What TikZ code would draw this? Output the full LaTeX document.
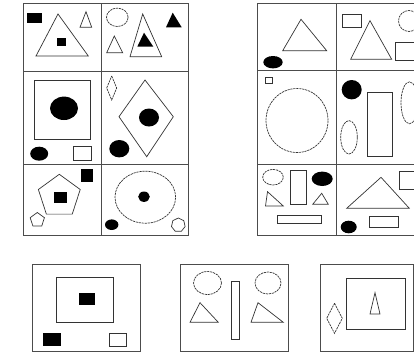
\documentclass[tikz,border=0pt]{standalone}
\usetikzlibrary{shapes.geometric}

\begin{document}
\begin{tikzpicture}[
  x=1pt, y=-1pt,
  frame/.style={draw=black!70, line width=1pt},
  shp/.style={draw=black!80, line width=0.7pt},
  dsh/.style={draw=black!80, line width=0.7pt, dash pattern=on 2.2pt off 0.8pt},
  blk/.style={fill=black},
  poly/.style={regular polygon, draw=black!80, line width=0.7pt, inner sep=0pt},
]
\useasboundingbox (0,0) rectangle (414,353);
\clip (0,0) rectangle (414,353);

% ---------- left grid ----------
\draw[frame] (23,4) rectangle (188,235);
\draw[frame] (101,4) -- (101,235);
\foreach \yy in {71,164} \draw[frame] (23,\yy) -- (188,\yy);

% top left
\fill[blk] (27.3,13.3) rectangle (41.7,22.7);
\draw[shp] (58,14) -- (88.3,56) -- (36,56) -- cycle;
\fill[blk] (56.7,37.7) rectangle (66,45.7);
\draw[shp] (86,11.7) -- (91.7,27.3) -- (80,27.3) -- cycle;

% top right
\draw[dsh] (117.3,17.3) ellipse [x radius=10.8pt, y radius=9.2pt];
\draw[shp] (114.3,36) -- (122.7,52.7) -- (106.7,52.7) -- cycle;
\draw[shp] (142.7,14) -- (161.7,56.7) -- (130,56.7) -- cycle;
\fill[blk] (144,32.7) -- (153.3,46.7) -- (137.3,46.7) -- cycle;
\fill[blk] (172.7,12.7) -- (181.7,27.3) -- (166,27.3) -- cycle;

% middle left
\draw[shp] (34,80.7) rectangle (90.7,139.3);
\fill[blk] (64,108.3) ellipse [x radius=14pt, y radius=11.7pt];
\fill[blk] (39.2,153.7) ellipse [x radius=9pt, y radius=7pt];
\draw[shp] (73.3,146.7) rectangle (91.7,160.7);

% middle right
\draw[dsh] (111.7,76) -- (116.7,88) -- (111.7,100) -- (106.7,88) -- cycle;
\draw[shp] (145,80) -- (173.3,116.7) -- (146.7,156.7) -- (119,116.7) -- cycle;
\fill[blk] (149,117.5) ellipse [x radius=10pt, y radius=9pt];
\fill[blk] (119.3,148.7) ellipse [x radius=10pt, y radius=8.7pt];

% bottom left
\node[poly, regular polygon sides=5, minimum size=44pt] (bigpent) at (59.3,196.3) {};
\fill[blk] (54.3,191.7) rectangle (66.7,203.3);
\fill[blk] (81,169.3) rectangle (93.3,181.7);
\node[poly, regular polygon sides=5, minimum size=15pt] (smallpent) at (37.3,220) {};

% bottom right
\draw[dsh] (145.3,197.2) ellipse [x radius=30.3pt, y radius=26pt];
\fill[blk] (144,196.7) ellipse [x radius=5.8pt, y radius=5.2pt];
\fill[blk] (111.7,224.7) ellipse [x radius=6.7pt, y radius=5.3pt];
\node[poly, regular polygon sides=7, minimum size=14pt] (smallhex) at (178.3,225) {};

% ---------- right grid ----------
\draw[frame] (257,4) rectangle (422,235);
\draw[frame] (336,4) -- (336,235);
\foreach \yy in {70,164} \draw[frame] (257,\yy) -- (422,\yy);

% top left
\draw[shp] (301,19.3) -- (326.7,50.7) -- (282.7,50.7) -- cycle;
\fill[blk] (273,62.2) ellipse [x radius=9.7pt, y radius=6.2pt];

% top right
\draw[shp] (342.7,14) rectangle (361,27.3);
\draw[shp] (370,20.7) -- (391.7,59.3) -- (350.7,59.3) -- cycle;
\draw[dsh] (409,21) ellipse [x radius=10.5pt, y radius=10.5pt];
\draw[shp] (395.7,42.7) rectangle (425,60.7);

% middle left
\draw[shp] (265,77.3) rectangle (272.7,83.3);
\draw[dsh] (297,120.5) ellipse [x radius=31pt, y radius=32pt];

% middle right
\fill[blk] (351.7,89.7) ellipse [x radius=10pt, y radius=9.7pt];
\draw[shp] (367.3,92.7) rectangle (392.7,156);
\draw[dsh] (349,137.3) ellipse [x radius=8.3pt, y radius=16.7pt];
\draw[dsh] (409.5,102.8) ellipse [x radius=8.5pt, y radius=21pt];

% bottom left
\draw[dsh] (273,177.2) ellipse [x radius=10.3pt, y radius=7.8pt];
\draw[shp] (290,170) rectangle (306,204.3);
\fill[blk] (322.2,178.8) ellipse [x radius=10.5pt, y radius=7.2pt];
\draw[shp] (267.5,191.7) -- (283.3,206) -- (265.5,206) -- cycle;
\draw[shp] (321.7,193.3) -- (328.3,204.3) -- (312.7,204.3) -- cycle;
\draw[shp] (277.3,215) rectangle (321.7,223.3);

% bottom right
\draw[shp] (381,177.3) -- (409.3,208.3) -- (346.7,208.3) -- cycle;
\draw[shp] (399.3,171.7) rectangle (425,189.3);
\fill[blk] (348.7,227) ellipse [x radius=8pt, y radius=6.3pt];
\draw[shp] (369.3,216.7) rectangle (398.3,227.7);

% ---------- answer boxes ----------
\draw[frame] (32.3,264.3) rectangle (140,351);
\draw[shp] (56.7,277) rectangle (113.3,322.3);
\fill[blk] (78.7,292.7) rectangle (95,305);
\fill[blk] (43.3,332.7) rectangle (61,346);
\draw[shp] (109.3,333.3) rectangle (126.7,346);

\draw[frame] (180,264.3) rectangle (288.3,351);
\draw[dsh] (207.5,283) ellipse [x radius=14pt, y radius=11.5pt];
\draw[dsh] (268,283) ellipse [x radius=13pt, y radius=11pt];
\draw[shp] (231.7,281) rectangle (239.3,339.3);
\draw[shp] (200,302.7) -- (218.3,322.3) -- (190,322.3) -- cycle;
\draw[shp] (258,302.7) -- (283.3,322.3) -- (251,322.3) -- cycle;

\draw[frame] (320.7,264.3) rectangle (413,351);
\draw[shp] (346.7,278.3) rectangle (405,329.3);
\draw[shp] (375,292.7) -- (380,314) -- (370,314) -- cycle;
\draw[dsh] (334.5,303.3) -- (342.3,318.3) -- (334.5,333.3) -- (326.7,318.3) -- cycle;

\end{tikzpicture}
\end{document}
